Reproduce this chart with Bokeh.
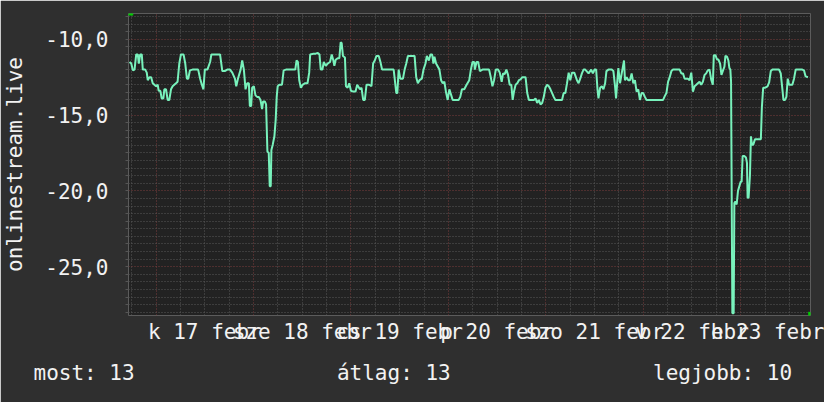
from bokeh.plotting import figure
from bokeh.models import FixedTicker, Range1d, Title, Arrow, NormalHead
from bokeh.embed import file_html
from bokeh.resources import INLINE

# ---- data (hours since 17 Feb 00:00, value) ----
hours = [
    -6.54, -6.12, -5.73, -5.31, -4.90, -4.51, -4.26, -3.92, -3.53, -3.28,
    -2.69, -2.30, -2.06, -1.64, -1.22, -0.83, -0.42, 0.0, 0.39, 0.64,
    1.05, 1.37, 1.79, 2.03, 2.45, 2.84, 3.26, 3.67, 4.07, 4.48,
    4.90, 5.29, 5.71, 6.12, 6.76, 7.18, 7.59, 7.91, 8.33, 8.96,
    9.80, 10.36, 10.85, 11.27, 11.66, 12.00, 12.64, 13.30, 13.62, 14.69,
    15.75, 16.31, 16.90, 17.53, 18.20, 18.76, 19.42, 19.74, 20.16, 20.82, 21.21,
    21.62, 22.03, 22.44, 22.85, 23.09, 23.42, 23.66, 24.07, 24.48, 24.89,
    25.30, 25.71, 26.11, 26.36, 26.77, 27.09, 27.42, 27.75, 27.99, 28.24,
    28.40, 28.73, 29.14, 29.46, 29.71, 29.95, 30.36, 31.01, 31.42, 31.99,
    33.05, 34.28, 34.60, 34.93, 35.26, 35.66, 36.07, 36.73, 37.30, 37.71,
    37.95, 38.77, 39.34, 39.83, 40.24, 40.56, 40.97, 41.30, 41.79, 42.28,
    42.85, 43.26, 43.67, 43.91, 44.24, 44.73, 45.14, 45.46, 45.71, 46.03,
    46.52, 46.77, 47.18, 47.58, 47.99, 48.56, 49.13, 49.54,
    50.20, 50.60, 51.01, 51.42, 51.83, 52.48, 53.05, 53.46, 53.87, 54.28,
    54.85, 55.26, 55.67, 57.13, 58.52, 58.77, 59.17, 59.42, 59.75, 60.15,
    60.81, 61.22, 61.62, 62.03, 63.67, 64.07, 64.48, 64.89, 65.46, 65.87,
    66.36, 66.69, 67.18, 67.58, 67.99, 68.32, 68.56, 68.97, 69.38, 69.79,
    70.20, 70.60, 71.01, 71.42, 71.83, 72.24, 72.65, 73.05, 74.52, 74.93,
    75.34, 75.91, 76.48, 77.14, 77.54,
    77.95, 78.36, 78.52, 78.93, 79.34, 79.75, 80.40, 82.03, 82.44, 82.85,
    83.26, 83.67, 84.24, 84.65, 85.13, 85.46, 85.87, 86.28, 86.69, 87.09,
    87.50, 87.83, 88.16, 88.56, 88.97, 89.38, 89.79, 90.20, 91.01, 91.42,
    91.83, 93.05, 93.46, 93.87, 94.28, 94.69, 95.10, 95.50, 95.91, 96.32,
    96.73, 97.14, 97.55, 97.95, 98.36, 99.99, 100.40, 100.81, 101.22, 101.63,
    102.03, 102.44, 103.01, 103.67, 104.07, 104.48, 104.89, 105.30,
    105.71, 106.53, 107.18, 107.59, 108.00, 108.40, 108.73, 108.97, 109.38, 109.79,
    110.20, 110.61, 110.93, 111.42, 112.24, 112.65, 113.05, 113.30, 113.63, 113.87,
    114.28, 114.69, 114.93, 115.26, 115.50, 115.91, 116.32, 116.73, 117.14, 117.55,
    117.95, 118.36, 118.77, 119.18, 119.59, 119.99, 120.40, 120.81, 124.89, 125.30,
    125.71, 126.12, 126.52, 126.93, 127.34, 128.97, 129.38, 129.79, 130.20, 131.01,
    131.42, 131.83, 132.24, 132.65, 133.06,
    133.46, 133.87, 134.28, 134.69, 135.10, 135.50, 135.91, 136.32, 136.73, 137.14,
    137.38, 137.79, 138.12, 138.52, 138.93, 139.26, 139.59, 140.00, 140.24, 140.65,
    140.97, 141.22, 141.46, 141.63, 141.95, 142.28, 142.44, 142.69, 143.01, 143.34,
    143.67, 143.99, 144.24, 144.48, 144.89, 145.30, 145.55, 145.71, 145.95, 146.28,
    146.53, 146.77, 147.10, 147.51, 148.97, 149.22, 149.54, 149.95, 150.61, 151.01,
    151.42, 151.83, 153.46, 153.87, 154.28, 154.53, 154.93, 155.26, 155.59, 155.91,
    156.73, 157.14, 157.55, 159.18, 159.59, 160.00, 160.57,
]
values = [
    -11.5, -11.6, -12.05, -12.0, -11.0, -11.0, -11.6, -11.0, -11.0, -12.0,
    -12.0, -12.2, -12.7, -12.5, -12.5, -12.9, -13.0, -13.1, -13.0, -13.4,
    -13.4, -13.9, -13.9, -13.3, -13.3, -14.0, -14.0, -13.3, -13.1, -13.0,
    -12.9, -12.8, -11.6, -11.0, -11.0, -11.6, -12.6, -12.6, -12.05, -12.0,
    -12.0, -12.0, -12.6, -13.0, -13.3, -12.0, -12.0, -11.5, -11.0, -11.0,
    -11.0, -12.1, -12.1, -12.0, -12.0, -12.2, -12.6, -13.1, -12.6, -12.0, -11.4,
    -12.0, -13.3, -12.9, -12.9, -14.4, -14.4, -13.2, -13.1, -13.7, -13.8,
    -13.8, -14.0, -14.6, -14.1, -14.1, -14.3, -17.4, -17.5, -19.7, -19.7,
    -17.3, -16.95, -16.4, -15.3, -13.8, -13.1, -13.0, -13.0, -12.05, -12.0,
    -12.0, -12.0, -11.4, -11.5, -12.7, -13.2, -13.0, -12.9, -12.9, -12.2,
    -11.0, -10.95, -10.95, -10.9, -11.0, -12.0, -12.0, -11.5, -11.75, -11.6,
    -11.5, -11.0, -11.4, -11.75, -11.35, -11.25, -11.25, -10.2, -10.25, -11.1,
    -11.2, -13.1, -13.2, -12.9, -13.4, -13.45, -13.45, -13.0,
    -13.3, -13.2, -14.0, -14.0, -13.0, -13.0, -13.1, -11.6, -11.4, -11.1,
    -11.1, -11.5, -12.0, -12.0, -12.0, -12.6, -13.55, -13.55, -12.0, -12.6,
    -12.6, -12.0, -11.6, -11.1, -11.1, -12.5, -12.9, -12.7, -12.6, -12.0,
    -11.6, -11.1, -11.4, -11.0, -11.0, -11.6, -11.15, -11.6, -11.8, -12.0,
    -12.7, -12.9, -12.8, -13.5, -14.0, -13.3, -13.65, -14.0, -14.0, -13.8,
    -13.3, -13.3, -13.0, -12.7, -12.0,
    -11.5, -11.5, -12.0, -11.5, -11.5, -12.1, -12.0, -12.0, -12.5, -13.1,
    -12.7, -12.0, -12.0, -12.2, -12.8, -12.25, -12.3, -12.0, -12.35, -13.0,
    -13.0, -14.0, -13.45, -13.0, -12.9, -12.7, -12.65, -12.5, -12.5, -13.55,
    -14.0, -14.0, -13.9, -14.2, -14.0, -14.3, -14.2, -13.8, -13.2, -13.0,
    -13.1, -13.3, -13.55, -13.8, -14.0, -14.0, -13.55, -13.55, -12.9, -12.2,
    -12.7, -12.2, -12.2, -12.7, -12.9, -12.6, -12.25, -12.0,
    -12.0, -12.25, -12.0, -12.25, -12.0, -12.0, -13.3, -13.9, -13.2, -13.1,
    -13.3, -12.9, -12.1, -12.0, -12.0, -12.1, -13.1, -13.9, -12.7, -11.9,
    -12.9, -12.25, -11.9, -11.4, -12.7, -12.5, -12.7, -12.7, -12.25, -12.9,
    -12.7, -13.45, -13.3, -14.0, -13.55, -13.55, -13.8, -14.0, -14.0, -13.75,
    -13.55, -12.8, -12.5, -12.1, -12.0, -12.0, -12.25, -12.25, -12.6, -12.6,
    -12.7, -12.2, -13.45, -13.1, -13.0,
    -12.9, -12.8, -13.0, -12.8, -12.35, -12.25, -12.05, -12.0, -12.65, -13.0,
    -11.05, -11.05, -11.3, -11.35, -11.6, -12.35, -12.1, -11.8, -11.1, -11.15,
    -11.4, -11.9, -12.0, -12.8, -28.07, -28.07, -20.8, -20.7, -20.9, -20.0,
    -19.7, -19.4, -19.4, -17.7, -17.7, -17.8, -18.15, -20.45, -20.45, -19.0,
    -16.4, -16.95, -16.95, -16.6, -16.6, -14.5, -13.2, -13.2, -13.1, -12.85,
    -12.1, -12.0, -12.0, -12.25, -13.3, -14.0, -14.0, -13.8, -12.6, -13.0,
    -13.0, -12.6, -12.0, -12.0, -12.05, -12.45, -12.5,
]

day_labels = ["k 17 febr", "sze 18 febr", "cs 19 febr", "p 20 febr",
              "szo 21 febr", "v 22 febr", "h 23 febr"]
y_ticks = [-25, -20, -15, -10]
y_tick_labels = ["-25,0", "-20,0", "-15,0", "-10,0"]
series_name = "onlinestream.live"
most, atlag, legjobb = 13, 13, 10

# ---- ticks derived from the day structure ----
noons = [12 + 24 * i for i in range(len(day_labels))]
midnights = [24 * i for i in range(len(day_labels))]
six_hours = [h for h in range(-6, 168, 6) if h % 24 != 0]
y_minor = [v / 2 for v in range(-56, -16) if v % 10 != 0]

X0, X1 = -6.8, 161.2
Y0, Y1 = -28.22, -8.3

FONT = "DejaVu Sans Mono"
TEXT = "#f2f2f2"

p = figure(width=824, height=402, output_backend="svg", toolbar_location=None,
           x_range=Range1d(X0, X1), y_range=Range1d(Y0, Y1),
           min_border_left=124, min_border_right=14, min_border_top=13,
           min_border_bottom=87)
p.background_fill_color = "#222222"
p.border_fill_color = "#2f2f2f"
p.outline_line_color = None

# grids
p.xgrid.ticker = FixedTicker(ticks=midnights, minor_ticks=six_hours)
p.ygrid.ticker = FixedTicker(ticks=y_ticks, minor_ticks=y_minor)
for g in (p.xgrid[0], p.ygrid[0]):
    g.grid_line_color = "#7a3c3c"
    g.grid_line_dash = "1 2"
    g.grid_line_width = 1
    g.minor_grid_line_color = "#585858"
    g.minor_grid_line_dash = "1 2"
    g.minor_grid_line_width = 1

# x axis
xa = p.xaxis[0]
xa.ticker = FixedTicker(ticks=noons)
xa.major_label_overrides = {n: lab for n, lab in zip(noons, day_labels)}
xa.axis_line_color = None
xa.major_tick_line_color = None
xa.minor_tick_line_color = None
xa.major_tick_out = 0
xa.major_label_standoff = 4
xa.major_label_text_font = FONT
xa.major_label_text_font_size = "21px"
xa.major_label_text_color = TEXT

# y axis
ya = p.yaxis[0]
ya.ticker = FixedTicker(ticks=y_ticks, minor_ticks=y_minor)
ya.major_label_overrides = {t: lab for t, lab in zip(y_ticks, y_tick_labels)}
ya.axis_line_color = None
ya.major_tick_line_color = "#555555"
ya.minor_tick_line_color = "#555555"
ya.major_tick_out = 3
ya.minor_tick_out = 3
ya.major_tick_in = 0
ya.minor_tick_in = 0
ya.major_label_standoff = 17
ya.major_label_text_font = FONT
ya.major_label_text_font_size = "21px"
ya.major_label_text_color = TEXT
ya.axis_label = series_name
ya.axis_label_text_font = FONT
ya.axis_label_text_font_size = "21px"
ya.axis_label_text_font_style = "normal"
ya.axis_label_text_color = TEXT
ya.axis_label_standoff = 15

p.line(hours, values, line_color="#78f2bc", line_width=2)

# green axis arrows (rrdtool style)
green = "#00d000"
p.add_layout(Arrow(end=NormalHead(size=7, fill_color=green, line_color=green),
                   x_start=X0 + 0.26, y_start=Y1, x_end=X0 + 0.26, y_end=Y1 + 0.36,
                   line_alpha=0))
p.add_layout(Arrow(end=NormalHead(size=7, fill_color=green, line_color=green),
                   x_start=X1, y_start=Y0, x_end=X1 + 1.3, y_end=Y0,
                   line_alpha=0))

# legend line below the chart
sp = "\u00a0" * 16
legend_text = f"most: {most}{sp}átlag: {atlag}{sp}legjobb: {legjobb}"
t = Title(text=legend_text, align="left", offset=-95, standoff=25,
          text_font=FONT, text_font_size="21px", text_font_style="normal",
          text_color=TEXT)
p.add_layout(t, "below")

open("out.html", "w").write(file_html(p, INLINE))
